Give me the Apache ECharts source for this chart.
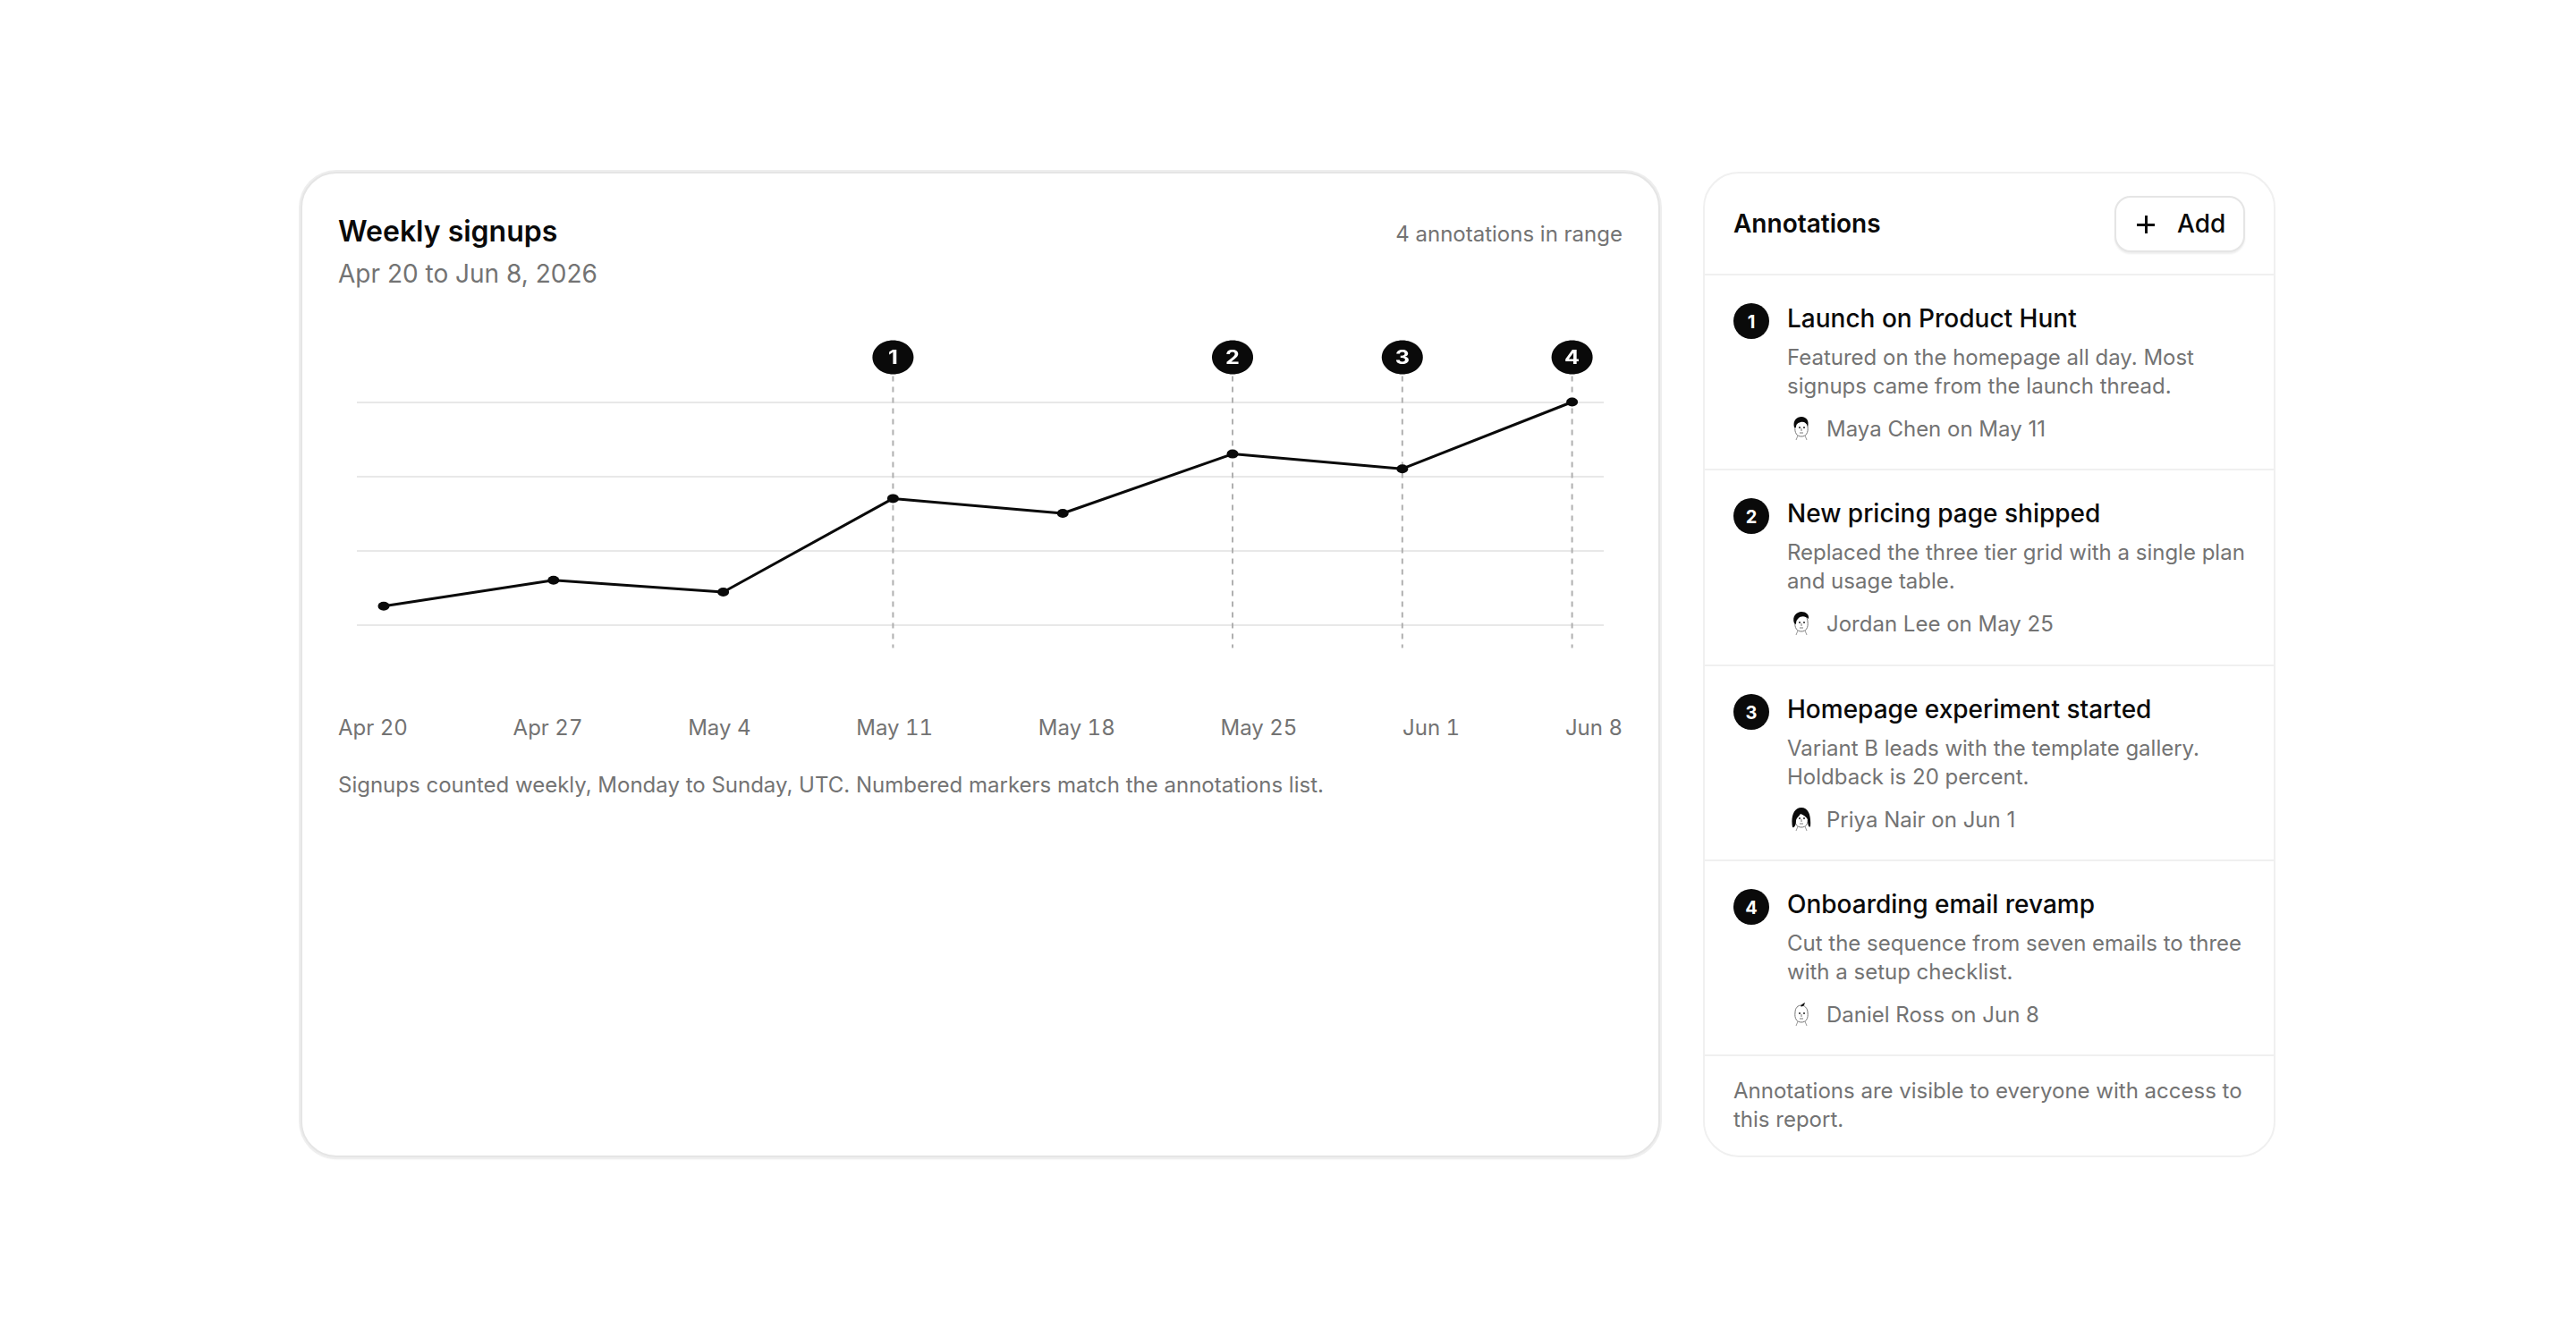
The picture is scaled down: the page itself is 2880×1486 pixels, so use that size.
<!doctype html>
<html lang="en">
<head>
<meta charset="utf-8">
<title>Weekly signups</title>
<script src="https://cdn.jsdelivr.net/npm/echarts@6/dist/echarts.min.js"></script>
<style>
    *{margin:0;padding:0;box-sizing:border-box}
    html,body{width:100%;height:100%;background:#fff;font-family:Inter,sans-serif;color:#0a0a0a;overflow:hidden}
    .muted{color:#737373}
    #card{position:absolute;left:336px;top:192px;width:1520px;height:1102px;background:#fff;border:2px solid #e5e5e5;border-radius:40px;box-shadow:0 0 0 2px #eeeeee,0 2px 2px #e5e5e5}
    #card>*{position:absolute}
    #title{left:40px;top:45px;font-size:32px;font-weight:600;line-height:40px}
    #range{left:40px;top:92px;font-size:28px;line-height:40px}
    #count{right:40px;top:51px;font-size:24px;line-height:34px}
    #main{left:40px;top:176px;width:1436px;height:370px}
    #ticks{left:40px;width:1436px;top:602px;display:flex;justify-content:space-between;font-size:24px;line-height:36px;font-variant-numeric:tabular-nums}
    #note{left:40px;top:666px;font-size:24px;line-height:36px}
    #panel{position:absolute;left:1904px;top:192px;width:640px;height:1102px;background:#fff;border:2px solid #f0f0f0;border-radius:40px}
    #head{position:relative;height:114px;border-bottom:2px solid #f0f0f0}
    #head b{position:absolute;left:32px;top:38px;font-size:28px;font-weight:600;line-height:36px}
    #add{position:absolute;left:458px;top:25px;width:146px;height:63px;background:#fff;border:2px solid #e5e5e5;border-radius:18px;box-shadow:0 2px 2px #eeeeee}
    #add i{position:absolute;left:23px;top:20px;width:20px;height:20px}
    #add i:before,#add i:after{content:"";position:absolute;background:#0a0a0a}
    #add i:before{left:0;top:8.5px;width:20px;height:3px}
    #add i:after{left:8.5px;top:0;width:3px;height:20px}
    #add span{position:absolute;left:68px;top:11px;font-size:28px;font-weight:500;line-height:36px}
    .row{position:relative;height:218.3px;border-bottom:2px solid #f0f0f0}
    .num{position:absolute;left:32px;top:31px;width:40px;height:40px;border-radius:50%;background:#0a0a0a;color:#fff;font-size:20px;font-weight:700;line-height:42px;text-align:center}
    .name{position:absolute;left:92px;top:29px;font-size:28px;font-weight:500;line-height:38px;white-space:nowrap}
    .desc{position:absolute;left:92px;top:76px;width:540px;font-size:24px;line-height:32px;white-space:pre}
    .who{position:absolute;left:136px;top:154px;font-size:24px;line-height:36px;white-space:nowrap}
    .ava{position:absolute;left:97px;top:157px;width:22px;height:28px}
    #foot{position:absolute;left:32px;top:1010px;font-size:24px;line-height:32px;white-space:pre}
</style>
</head>
<body>

<div id="card">
    <div id="title">Weekly signups</div>
    <div id="range" class="muted">Apr 20 to Jun 8, 2026</div>
    <div id="count" class="muted">4 annotations in range</div>
    <div id="main"></div>
    <div id="ticks" class="muted"></div>
    <div id="note" class="muted">Signups counted weekly, Monday to Sunday, UTC. Numbered markers match the annotations list.</div>
</div>

<div id="panel">
    <div id="head"><b>Annotations</b><div id="add"><i></i><span>Add</span></div></div>
    <div id="list"></div>
    <div id="foot" class="muted">Annotations are visible to everyone with access to
this report.</div>
</div>

<script type="text/javascript">
    var weeks = ['2026-04-20','2026-04-27','2026-05-04','2026-05-11','2026-05-18','2026-05-25','2026-06-01','2026-06-08'];
    var weekLabels = ['Apr 20','Apr 27','May 4','May 11','May 18','May 25','Jun 1','Jun 8'];
    var signups = [25, 60, 44, 170, 150, 230, 210, 300];
    var annotationWeeks = ['2026-05-11','2026-05-25','2026-06-01','2026-06-08'];
    var annotationTitles = ['Launch on Product Hunt','New pricing page shipped','Homepage experiment started','Onboarding email revamp'];
    var annotationTexts = [
        'Featured on the homepage all day. Most\nsignups came from the launch thread.',
        'Replaced the three tier grid with a single plan\nand usage table.',
        'Variant B leads with the template gallery.\nHoldback is 20 percent.',
        'Cut the sequence from seven emails to three\nwith a setup checklist.'
    ];
    var annotationAuthors = ['Maya Chen on May 11','Jordan Lee on May 25','Priya Nair on Jun 1','Daniel Ross on Jun 8'];

    // little sketched faces next to the author names
    var hair = [
        'M3 13C1 5 6 1 11 1C17 1 20 6 18 12C17 8 14 6 10 7C7 8 5 9 5 13Z',
        'M3 14C0 6 6 1 11 1C16 1 20 4 19 9C15 5 10 6 8 8C6 10 5 11 5 15Z',
        'M1 23C-1 12 2 1 11 1C19 1 22 10 21 22C19 24 18 20 18 14C16 11 13 9 10 8C8 11 6 12 5 15C5 19 4 24 1 23Z',
        'M10 5C11 3 13 2 15 1L14 4C13 5 11 6 10 5Z'
    ];

    function avatar(i) {
        return '<svg class="ava" viewBox="0 0 22 28">' +
            '<path d="M4 12C3 19 6 23 11 23C16 23 19 19 18 12C18 7 14 4 11 4C7 4 4 7 4 12Z" fill="#fff" stroke="#777" stroke-width="1"/>' +
            '<path d="M7 22L5 27M15 22L17 27" fill="none" stroke="#999" stroke-width="1"/>' +
            '<path d="' + hair[i] + '" fill="#0a0a0a"/>' +
            '<path d="M8 13h2M13 13h2" stroke="#222" stroke-width="1.4"/>' +
            '<path d="M11 14v3M9 19h4" fill="none" stroke="#555" stroke-width=".8"/>' +
            '</svg>';
    }

    var listHtml = '';
    for (var i = 0; i < annotationTitles.length; i++) {
        listHtml += '<div class="row"><div class="num">' + (i + 1) + '</div>' +
            '<div class="name">' + annotationTitles[i] + '</div>' +
            '<div class="desc muted">' + annotationTexts[i] + '</div>' +
            avatar(i) +
            '<div class="who muted">' + annotationAuthors[i] + '</div></div>';
    }
    document.getElementById('list').innerHTML = listHtml;
    document.getElementById('ticks').innerHTML = weekLabels.map(function(t) {
        return '<span>' + t + '</span>';
    }).join('');

    var DAY = 86400000;
    function toTime(d) {
        return new Date(d + 'T00:00:00Z').getTime();
    }

    var myChart = echarts.init(document.getElementById('main'));

    var series = [];
    series.push({
        type: 'custom',
        z: 1,
        data: annotationWeeks.map(function(d, n) {
            return [toTime(d), n + 1];
        }),
        encode: {x: 0},
        renderItem: function(params, api) {
            var top = api.coord([api.value(0), 300]);
            var base = api.coord([api.value(0), 0]);
            return {
                type: 'group',
                children: [{
                    type: 'line',
                    shape: {x1: top[0], y1: top[1] - 29, x2: top[0], y2: base[1] + 26},
                    style: {stroke: '#b0b0b0', lineWidth: 2, lineDash: [6, 6]}
                }, {
                    type: 'ellipse',
                    shape: {cx: top[0], cy: top[1] - 50, rx: 23, ry: 19},
                    style: {fill: '#0a0a0a'}
                }, {
                    type: 'text',
                    x: top[0],
                    y: top[1] - 49,
                    scaleX: 1.2,
                    style: {
                        text: String(api.value(1)),
                        fill: '#fff',
                        font: '700 21px Inter',
                        align: 'center',
                        verticalAlign: 'middle'
                    }
                }]
            };
        }
    });
    series.push({
        name: 'Signups',
        type: 'line',
        z: 2,
        clip: false,
        data: weeks.map(function(d, n) {
            return [toTime(d), signups[n]];
        }),
        symbol: 'circle',
        symbolSize: [13, 10],
        lineStyle: {color: '#0a0a0a', width: 3},
        itemStyle: {color: '#0a0a0a'}
    });

    var option = {
        animation: false,
        grid: {left: 21, right: 21, top: 79.5, height: 249},
        xAxis: {
            type: 'time',
            min: toTime(weeks[0]) - 1.106 * DAY,
            max: toTime(weeks[7]) + 1.305 * DAY,
            axisLine: {show: false},
            axisTick: {show: false},
            axisLabel: {show: false},
            splitLine: {show: false}
        },
        yAxis: {
            type: 'value',
            min: 0,
            max: 300,
            interval: 100,
            axisLine: {show: false},
            axisTick: {show: false},
            axisLabel: {show: false},
            splitLine: {lineStyle: {color: '#e8e8e8', width: 2}}
        },
        series: series
    };
    myChart.setOption(option);
</script>
</body>
</html>
